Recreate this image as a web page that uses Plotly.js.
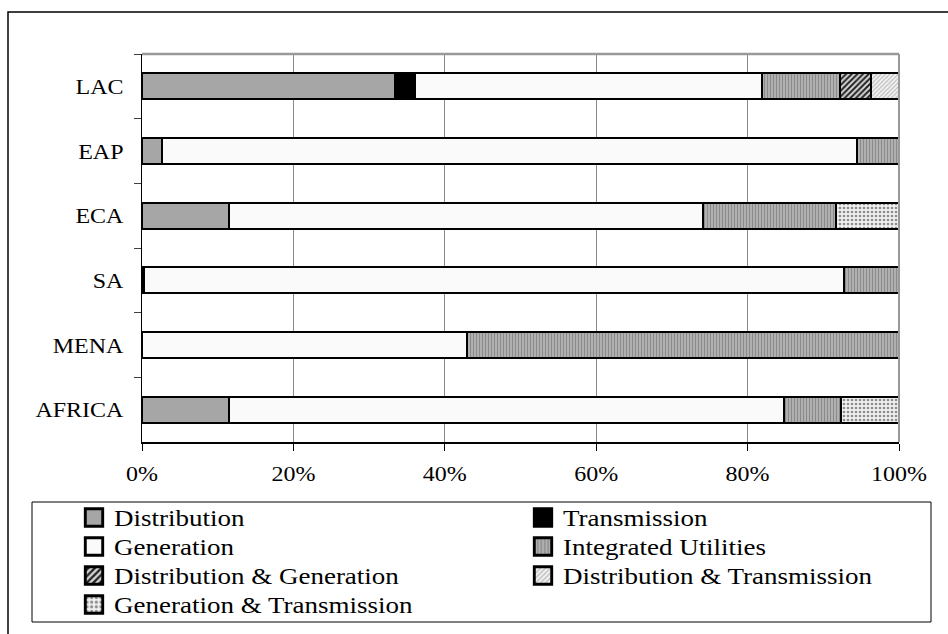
<!DOCTYPE html>
<html>
<head>
<meta charset="utf-8">
<script src="https://cdn.plot.ly/plotly-3.0.1.min.js"></script>
<style>
html,body{margin:0;padding:0;background:#fff;}
#chart{width:948px;height:634px;}
</style>
</head>
<body>
<div id="chart"></div>
<script>
// Regions (top to bottom as drawn)
const regions = ['LAC', 'EAP', 'ECA', 'SA', 'MENA', 'AFRICA'];

// Shares (%) by utility type, per region
const distribution      = [33.4, 2.7, 11.45, 0.3, 0, 11.45];
const transmission      = [2.6, 0, 0, 0, 0, 0];
const generation        = [45.9, 91.8, 62.6, 92.4, 42.9, 73.3];
const integrated        = [10.3, 5.5, 17.6, 7.3, 57.1, 7.6];
const distGeneration    = [4.1, 0, 0, 0, 0, 0];
const distTransmission  = [3.7, 0, 0, 0, 0, 0];
const genTransmission   = [0, 0, 8.35, 0, 0, 7.65];

const xTickVals = [0, 20, 40, 60, 80, 100];
const xTickText = ['0%', '20%', '40%', '60%', '80%', '100%'];

const edge = {color: '#000', width: 2};
function mk(name, vals, marker) {
  return {
    type: 'bar', orientation: 'h', name: name,
    x: vals, y: regions,
    marker: Object.assign({line: edge}, marker),
    hoverinfo: 'name+x'
  };
}

const traces = [
  mk('Distribution', distribution, {color: '#a6a6a6'}),
  mk('Transmission', transmission, {color: '#000000'}),
  mk('Generation', generation, {color: '#fafafa'}),
  mk('Integrated Utilities', integrated, {color: '#a6a6a6',
      pattern: {shape: '|', bgcolor: '#b0b0b0', fgcolor: '#8a8a8a', size: 3, solidity: 0.35, fillmode: 'replace'}}),
  mk('Distribution & Generation', distGeneration, {color: '#808080',
      pattern: {shape: '/', bgcolor: '#d8d8d8', fgcolor: '#202020', size: 4, solidity: 0.5, fillmode: 'replace'}}),
  mk('Distribution & Transmission', distTransmission, {color: '#eeeeee',
      pattern: {shape: '/', bgcolor: '#f4f4f4', fgcolor: '#bdbdbd', size: 3, solidity: 0.4, fillmode: 'replace'}}),
  mk('Generation & Transmission', genTransmission, {color: '#e6e6e6',
      pattern: {shape: '.', bgcolor: '#f0f0f0', fgcolor: '#8c8c8c', size: 4, solidity: 0.35, fillmode: 'replace'}})
];

const L = 142, R = 899, T = 54, B = 442;
const W = R - L, H = B - T;
function px(x) { return (x - L) / W; }
function py(y) { return (B - y) / H; }

const font = {family: '"Liberation Serif", "Times New Roman", serif', size: 20, color: '#000'};

const layout = {
  width: 948, height: 634,
  margin: {l: L, r: 948 - R, t: T, b: 634 - B, pad: 0},
  paper_bgcolor: '#fff', plot_bgcolor: '#fff',
  barmode: 'stack', bargap: 0.6,
  font: font,
  showlegend: true,
  xaxis: {
    range: [0, 100], tickvals: xTickVals, ticktext: xTickText,
    showgrid: true, gridcolor: '#8a8a8a', gridwidth: 1.2,
    showline: true, linecolor: '#000', linewidth: 1.5,
    ticks: 'outside', ticklen: 7, tickcolor: '#000', tickwidth: 1,
    zeroline: false, fixedrange: true, tickfont: font,
    ticklabelstandoff: 6
  },
  yaxis: {
    type: 'category', autorange: 'reversed',
    showline: true, linecolor: '#000', linewidth: 1.5,
    ticks: 'outside', tickson: 'boundaries', ticklen: 7, tickcolor: '#404040', tickwidth: 1,
    showgrid: false, zeroline: false, fixedrange: true, tickfont: font,
    ticklabelstandoff: 13
  },
  legend: {
    orientation: 'h', x: px(50), xanchor: 'left', y: 0, yanchor: 'top',
    font: font, bgcolor: 'rgba(0,0,0,0)', borderwidth: 0,
    entrywidth: 404, entrywidthmode: 'pixels', traceorder: 'normal',
    itemclick: false, itemdoubleclick: false
  },
  shapes: [
    {type: 'line', xref: 'paper', yref: 'paper', x0: 0, x1: 1, y0: 1, y1: 1,
     line: {color: '#999', width: 2.5}},
    {type: 'line', xref: 'paper', yref: 'paper', x0: 1, x1: 1, y0: 0, y1: 1,
     line: {color: '#999', width: 2}},
    {type: 'rect', xref: 'paper', yref: 'paper', x0: px(32), x1: px(931), y0: py(622), y1: py(502),
     line: {color: '#000', width: 1}},
    {type: 'rect', xref: 'paper', yref: 'paper', x0: px(8), x1: px(990), y0: py(680), y1: py(12),
     line: {color: '#000', width: 1.5}}
  ]
};

// widen glyphs around an anchor point (ax: 0 left, 0.5 centre, 1 right)
function stretch(el, sx, sy, ax) {
  const b = el.getBBox();
  const ox = b.x + ax * b.width, oy = b.y + b.height / 2;
  const t = el.getAttribute('transform') || '';
  el.setAttribute('transform',
    t + ' translate(' + ox + ',' + oy + ') scale(' + sx + ',' + sy + ') translate(' + (-ox) + ',' + (-oy) + ')');
}

Plotly.newPlot('chart', traces, layout, {displayModeBar: false, staticPlot: true}).then(function (gd) {
  gd.querySelectorAll('.xtick text').forEach(function (el) { stretch(el, 1.2, 1.07, 0.5); });
  gd.querySelectorAll('.ytick text').forEach(function (el) { stretch(el, 1.2, 1.07, 1); });
  gd.querySelectorAll('.legendtext').forEach(function (el) { stretch(el, 1.35, 1.12, 0); });
  gd.querySelectorAll('.legendpoints path').forEach(function (el) { stretch(el, 1.45, 1.45, 0.5); });
  const leg = gd.querySelector('g.legend');
  if (leg) leg.setAttribute('transform', (leg.getAttribute('transform') || '') + ' translate(24,56)');
});
</script>
</body>
</html>
